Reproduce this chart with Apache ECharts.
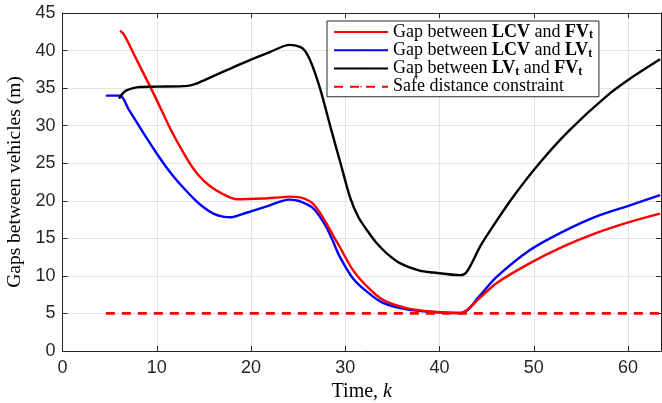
<!DOCTYPE html>
<html>
<head>
<meta charset="utf-8">
<script src="https://cdn.jsdelivr.net/npm/echarts@6/dist/echarts.min.js"></script>
<style>
html,body{margin:0;padding:0;background:#fff;}
#c{width:662px;height:403px;}
</style>
</head>
<body>
<div id="c"></div>
<script>
// ---- Data ----
var xTicks = [0, 10, 20, 30, 40, 50, 60];
var yTicks = [0, 5, 10, 15, 20, 25, 30, 35, 40, 45];

var tRed = [6.1, 6.4, 6.8, 7.5, 8.5, 9.3, 10.0, 11.4, 12.6, 13.5, 14.5, 15.6, 17.0, 18.5, 21.3, 23.0, 24.1, 25.2, 26.0, 26.6, 27.2, 28.0, 28.7, 29.4, 30.8, 32.3, 34.0, 36.5, 39.3, 42.2, 44.3, 46.0, 49.6, 53.1, 56.6, 60.2, 63.4];
var vRed = [42.65, 42.35, 41.5, 39.7, 37.2, 35.2, 33.4, 29.7, 26.9, 25.0, 23.3, 22.0, 20.9, 20.2, 20.3, 20.45, 20.55, 20.45, 20.1, 19.6, 18.6, 17.0, 15.4, 13.9, 10.8, 8.6, 6.8, 5.7, 5.23, 5.05, 7.1, 9.0, 11.7, 13.9, 15.7, 17.2, 18.3];

var tBlue = [4.6, 6.1, 7.0, 8.0, 9.0, 10.0, 11.0, 12.0, 13.0, 14.0, 15.0, 16.0, 17.0, 17.8, 19.0, 20.0, 22.0, 24.0, 25.0, 25.8, 26.6, 27.3, 28.0, 28.7, 29.4, 30.8, 32.3, 34.0, 36.5, 39.3, 42.3, 44.3, 46.0, 49.6, 53.1, 56.6, 60.2, 63.4];
var vBlue = [34.0, 34.0, 32.2, 30.2, 28.2, 26.3, 24.5, 22.9, 21.5, 20.2, 19.1, 18.3, 17.9, 17.8, 18.2, 18.6, 19.4, 20.15, 20.0, 19.6, 19.0, 17.9, 16.5, 14.6, 12.6, 9.7, 7.9, 6.4, 5.55, 5.2, 5.05, 7.4, 9.8, 13.45, 15.9, 17.9, 19.4, 20.75];

var tBlack = [6.0, 6.4, 6.8, 7.5, 8.2, 10.0, 13.3, 14.2, 16.0, 18.0, 20.0, 22.0, 24.1, 25.2, 25.7, 26.2, 26.8, 27.5, 28.5, 29.5, 30.5, 31.4, 32.3, 33.3, 34.4, 35.8, 37.9, 39.3, 42.15, 42.9, 44.3, 45.3, 47.8, 50.6, 53.8, 57.7, 60.5, 63.4];
var vBlack = [33.6, 34.3, 34.7, 35.0, 35.15, 35.2, 35.3, 35.6, 36.6, 37.7, 38.8, 39.8, 40.75, 40.5, 40.0, 38.9, 37.0, 34.2, 29.5, 25.0, 20.5, 17.8, 16.1, 14.4, 13.0, 11.7, 10.7, 10.45, 10.1, 10.56, 13.9, 15.9, 20.5, 25.0, 29.4, 33.9, 36.5, 38.85];

var tSafe = [4.6, 63.5];
var vSafe = [5, 5];

var seriesNames = ['gapLCVFV', 'gapLCVLV', 'gapLVFV', 'safe'];
var legendLabels = {
  gapLCVFV: '{n|Gap between }{b|LCV}{n| and }{b|FV}{s|t}',
  gapLCVLV: '{n|Gap between }{b|LCV}{n| and }{b|LV}{s|t}',
  gapLVFV: '{n|Gap between }{b|LV}{s|t}{n| and }{b|FV}{s|t}',
  safe: '{n|Safe distance constraint}'
};

function zip(t, v) { return t.map(function (x, i) { return [x, v[i]]; }); }

var SERIF = 'Liberation Serif';
var SANS = 'Liberation Sans';
var AX = '#262626';

var chart = echarts.init(document.getElementById('c'), null, {renderer: 'canvas'});
var option = {
  animation: false,
  backgroundColor: '#fff',
  grid: {left: 62.5, right: 1, top: 13, bottom: 52, containLabel: false, outerBoundsMode: 'none'},
  legend: {
    orient: 'vertical',
    left: 327, top: 21,
    padding: [2, 6, 1, 6],
    itemGap: 0,
    itemWidth: 54, itemHeight: 2,
    backgroundColor: '#fff',
    borderColor: AX, borderWidth: 1,
    data: seriesNames,
    formatter: function (name) { return legendLabels[name]; },
    textStyle: {
      rich: {
        n: {fontFamily: SERIF, fontSize: 18, color: '#000', lineHeight: 18.5},
        b: {fontFamily: SERIF, fontSize: 18, fontWeight: 'bold', color: '#000', lineHeight: 18.5},
        s: {fontFamily: SERIF, fontSize: 12, fontWeight: 'bold', color: '#000', lineHeight: 8, verticalAlign: 'bottom'}
      }
    }
  },
  xAxis: [{
    type: 'value', min: 0, max: 63.5, interval: 10,
    position: 'bottom',
    name: 'Time, {i|k}', nameLocation: 'middle', nameGap: 26,
    nameTextStyle: {fontFamily: SERIF, fontSize: 20, color: '#000',
      rich: {i: {fontFamily: SERIF, fontSize: 20, fontStyle: 'italic', color: '#000'}}},
    axisLine: {show: true, onZero: false, lineStyle: {color: AX, width: 1}},
    axisTick: {show: true, inside: true, length: 5, lineStyle: {color: AX}},
    axisLabel: {fontFamily: SANS, fontSize: 18, color: AX, margin: 8,
      showMaxLabel: false,
      formatter: function (v) { return xTicks.indexOf(v) >= 0 ? String(v) : ''; }},
    splitLine: {show: true, lineStyle: {color: '#e3e3e3', width: 1}}
  }, {
    type: 'value', min: 0, max: 63.5, interval: 10,
    position: 'top',
    axisLine: {show: true, onZero: false, lineStyle: {color: AX, width: 1}},
    axisTick: {show: true, inside: true, length: 5, lineStyle: {color: AX}},
    axisLabel: {show: false},
    splitLine: {show: false}
  }],
  yAxis: [{
    type: 'value', min: 0, max: 45, interval: 5,
    position: 'left',
    name: 'Gaps between vehicles (m)', nameLocation: 'middle', nameGap: 35,
    nameTextStyle: {fontFamily: SERIF, fontSize: 19.5, color: '#000'},
    axisLine: {show: true, onZero: false, lineStyle: {color: AX, width: 1}},
    axisTick: {show: true, inside: true, length: 5, lineStyle: {color: AX}},
    axisLabel: {fontFamily: SANS, fontSize: 18, color: AX, margin: 7,
      formatter: function (v) { return yTicks.indexOf(v) >= 0 ? String(v) : ''; }},
    splitLine: {show: true, lineStyle: {color: '#e3e3e3', width: 1}}
  }, {
    type: 'value', min: 0, max: 45, interval: 5,
    position: 'right',
    axisLine: {show: true, onZero: false, lineStyle: {color: AX, width: 1}},
    axisTick: {show: true, inside: true, length: 5, lineStyle: {color: AX}},
    axisLabel: {show: false},
    splitLine: {show: false}
  }],
  series: [
    {name: 'gapLCVFV', type: 'line', data: zip(tRed, vRed), symbol: 'none', smooth: 0.3,
      lineStyle: {color: '#ff0000', width: 2.4}, itemStyle: {color: '#ff0000'}, z: 4},
    {name: 'gapLCVLV', type: 'line', data: zip(tBlue, vBlue), symbol: 'none', smooth: 0.3,
      lineStyle: {color: '#0000ff', width: 2.4}, itemStyle: {color: '#0000ff'}, z: 3},
    {name: 'gapLVFV', type: 'line', data: zip(tBlack, vBlack), symbol: 'none', smooth: 0.3,
      lineStyle: {color: '#000000', width: 2.4}, itemStyle: {color: '#000000'}, z: 5},
    {name: 'safe', type: 'line', data: zip(tSafe, vSafe), symbol: 'none',
      lineStyle: {color: '#ff0000', width: 2.8, type: [9, 7]}, itemStyle: {color: '#ff0000'}, z: 6}
  ]
};
chart.setOption(option);
</script>
</body>
</html>
